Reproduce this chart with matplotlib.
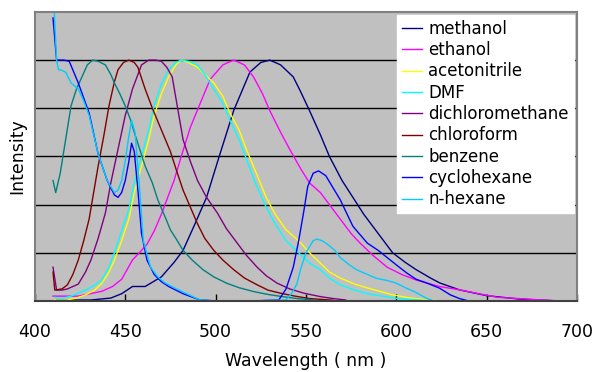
import matplotlib
matplotlib.use("Agg")
import matplotlib.pyplot as plt

# emission spectra, normalised so each peak = 1
wl_methanol = [412, 420, 431, 442, 448, 454, 461, 470, 477, 482, 488, 495, 502, 510, 519, 525, 530, 536, 543, 547, 552, 558, 563, 570, 576, 582, 587, 593, 598, 605, 611, 619, 624, 635, 650, 668, 690]
methanol = [0.005, 0.004, 0.004, 0.012, 0.03, 0.06, 0.06, 0.10, 0.16, 0.21, 0.31, 0.43, 0.60, 0.79, 0.95, 0.99, 1.0, 0.98, 0.93, 0.87, 0.79, 0.69, 0.60, 0.50, 0.43, 0.36, 0.31, 0.25, 0.20, 0.16, 0.13, 0.095, 0.075, 0.046, 0.022, 0.008, 0.0]

wl_ethanol = [410, 424, 437, 443, 448, 454, 459, 462, 466, 470, 474, 477, 481, 486, 492, 497, 504, 510, 516, 521, 526, 530, 536, 541, 547, 552, 558, 563, 569, 575, 580, 587, 595, 603, 611, 624, 635, 656, 672, 690]
ethanol = [0.02, 0.02, 0.04, 0.06, 0.09, 0.17, 0.21, 0.235, 0.29, 0.36, 0.44, 0.50, 0.60, 0.72, 0.83, 0.92, 0.98, 1.0, 0.98, 0.93, 0.86, 0.79, 0.70, 0.63, 0.55, 0.49, 0.45, 0.40, 0.34, 0.28, 0.24, 0.19, 0.14, 0.11, 0.087, 0.06, 0.046, 0.015, 0.008, 0.0]

wl_acetonitrile = [411, 418, 423, 428, 433, 437, 441, 444, 448, 452, 455, 459, 463, 466, 470, 474, 478, 481, 485, 490, 494, 499, 504, 508, 513, 517, 522, 528, 533, 539, 546, 552, 558, 563, 569, 577, 584, 591, 598, 608, 617, 625]
acetonitrile = [0.004, 0.004, 0.012, 0.025, 0.045, 0.073, 0.12, 0.17, 0.25, 0.34, 0.45, 0.56, 0.67, 0.77, 0.86, 0.93, 0.98, 1.0, 0.99, 0.97, 0.94, 0.905, 0.85, 0.78, 0.71, 0.63, 0.54, 0.43, 0.36, 0.295, 0.25, 0.20, 0.157, 0.12, 0.095, 0.07, 0.054, 0.04, 0.025, 0.012, 0.005, 0.0]

wl_dmf = [411, 415, 420, 428, 433, 437, 441, 444, 448, 452, 455, 459, 463, 466, 470, 474, 478, 481, 485, 490, 494, 499, 504, 508, 513, 517, 522, 528, 533, 539, 546, 552, 558, 563, 569, 577, 584, 592, 601, 610, 620]
dmf = [0.015, 0.01, 0.02, 0.045, 0.065, 0.087, 0.14, 0.20, 0.29, 0.38, 0.49, 0.60, 0.71, 0.81, 0.90, 0.96, 0.99, 1.0, 0.995, 0.98, 0.94, 0.88, 0.82, 0.75, 0.67, 0.59, 0.49, 0.39, 0.32, 0.25, 0.20, 0.157, 0.13, 0.095, 0.067, 0.045, 0.03, 0.02, 0.01, 0.005, 0.0]

wl_dcm = [410, 412, 415, 418, 424, 428, 431, 435, 439, 442, 446, 450, 454, 459, 463, 467, 470, 473, 476, 479, 482, 486, 490, 495, 501, 506, 512, 517, 523, 528, 534, 541, 549, 558, 565, 572]
dcm = [0.14, 0.045, 0.045, 0.05, 0.07, 0.12, 0.17, 0.26, 0.365, 0.49, 0.63, 0.77, 0.88, 0.98, 1.0, 1.0, 0.995, 0.97, 0.93, 0.80, 0.67, 0.58, 0.50, 0.43, 0.365, 0.30, 0.24, 0.19, 0.14, 0.105, 0.074, 0.05, 0.032, 0.018, 0.01, 0.004]

wl_chloroform = [410, 411, 415, 418, 421, 424, 427, 430, 435, 438, 441, 444, 446, 449, 452, 455, 457, 461, 465, 470, 475, 478, 482, 486, 490, 494, 499, 504, 510, 516, 523, 529, 536, 544, 552, 565]
chloroform = [0.12, 0.045, 0.05, 0.067, 0.11, 0.17, 0.25, 0.34, 0.56, 0.68, 0.81, 0.91, 0.96, 0.99, 1.0, 0.99, 0.97, 0.88, 0.80, 0.71, 0.62, 0.55, 0.46, 0.39, 0.32, 0.26, 0.21, 0.17, 0.13, 0.095, 0.067, 0.045, 0.032, 0.02, 0.01, 0.003]

wl_benzene = [410, 411.5, 414, 417, 420, 423, 426, 429, 432, 435, 439, 442, 444, 447, 450, 453, 455, 458, 461, 465, 468, 472, 475, 478, 482, 487, 493, 499, 506, 513, 521, 529, 537, 545, 555]
benzene = [0.50, 0.45, 0.53, 0.67, 0.81, 0.88, 0.93, 0.98, 1.0, 0.995, 0.98, 0.94, 0.905, 0.86, 0.81, 0.75, 0.70, 0.63, 0.56, 0.49, 0.42, 0.35, 0.295, 0.26, 0.21, 0.17, 0.13, 0.10, 0.074, 0.055, 0.039, 0.027, 0.018, 0.01, 0.004]

wl_cyclohexane = [410, 412, 416, 419, 424, 430, 435, 440, 444, 446, 448, 450, 452, 453.5, 455, 457, 459, 462, 466, 470, 474, 482, 491, 500, 520, 535, 539, 543, 546, 549, 551, 554, 557, 561, 565, 569, 576, 584, 590, 595, 600, 606, 611, 617, 624, 630, 635, 640]
cyclohexane = [1.175, 1.0, 1.0, 0.995, 0.905, 0.78, 0.61, 0.50, 0.44, 0.43, 0.45, 0.50, 0.58, 0.655, 0.62, 0.46, 0.28, 0.17, 0.11, 0.08, 0.06, 0.03, 0.005, 0.0, 0.0, 0.004, 0.05, 0.14, 0.25, 0.38, 0.475, 0.53, 0.54, 0.52, 0.47, 0.42, 0.31, 0.24, 0.21, 0.18, 0.15, 0.115, 0.09, 0.074, 0.053, 0.025, 0.01, 0.0]

wl_nhexane = [410.7, 412, 413, 414, 417, 420, 424, 427, 430, 435, 440, 444, 446, 448, 450, 451.7, 453.5, 455.4, 458, 460, 464, 468, 472, 477, 484, 491, 500, 520, 539, 542, 545, 547, 550, 554, 556, 559, 562, 566, 569, 574, 578, 584, 589, 595, 600, 605, 610, 617, 621]
nhexane = [1.2, 1.0, 0.96, 0.96, 0.95, 0.905, 0.88, 0.83, 0.77, 0.61, 0.50, 0.45, 0.46, 0.50, 0.58, 0.67, 0.75, 0.70, 0.46, 0.25, 0.14, 0.10, 0.075, 0.055, 0.03, 0.005, 0.0, 0.0, 0.004, 0.03, 0.07, 0.13, 0.20, 0.25, 0.257, 0.25, 0.235, 0.21, 0.18, 0.15, 0.13, 0.11, 0.094, 0.085, 0.074, 0.055, 0.039, 0.01, 0.0]

series = [
    ("methanol", wl_methanol, methanol, "#000080"),
    ("ethanol", wl_ethanol, ethanol, "#FF00FF"),
    ("acetonitrile", wl_acetonitrile, acetonitrile, "#FFFF00"),
    ("DMF", wl_dmf, dmf, "#00FFFF"),
    ("dichloromethane", wl_dcm, dcm, "#800080"),
    ("chloroform", wl_chloroform, chloroform, "#800000"),
    ("benzene", wl_benzene, benzene, "#008080"),
    ("cyclohexane", wl_cyclohexane, cyclohexane, "#0000FF"),
    ("n-hexane", wl_nhexane, nhexane, "#00CCFF"),
]

fig = plt.figure(figsize=(5.92, 3.72), dpi=100)
ax = fig.add_axes([0.059, 0.191, 0.9155, 0.777])
ax.set_facecolor("#C0C0C0")

for name, x, y, c in series:
    ax.plot(x, y, color=c, lw=1.0, label=name)

ax.set_xlim(400, 700)
ax.set_ylim(0, 1.2)
ax.set_xticks([400, 450, 500, 550, 600, 650, 700])
ax.set_yticks([0.2, 0.4, 0.6, 0.8, 1.0])
ax.set_yticklabels([])
ax.yaxis.grid(True, color="black", lw=1.0)
ax.set_axisbelow(True)
ax.tick_params(axis="y", length=0)
ax.tick_params(axis="x", direction="in", length=5, width=1, pad=16, labelsize=12.5)
for s in ["top", "right", "left"]:
    ax.spines[s].set_color("#808080")
    ax.spines[s].set_linewidth(1.5)
ax.spines["bottom"].set_color("#404040")
ax.spines["bottom"].set_linewidth(1.5)

ax.set_xlabel("Wavelength ( nm )", fontsize=12.5, labelpad=8)
ax.set_ylabel("Intensity", fontsize=12.5, labelpad=3)

leg = ax.legend(loc="upper right", bbox_to_anchor=(0.994, 0.99), fontsize=12,
                frameon=True, fancybox=False, framealpha=1, edgecolor="white",
                handlelength=1.2, handletextpad=0.35, labelspacing=0.2,
                borderpad=0.3, borderaxespad=0)
leg.get_frame().set_facecolor("white")

fig.savefig("out.png", dpi=100)
